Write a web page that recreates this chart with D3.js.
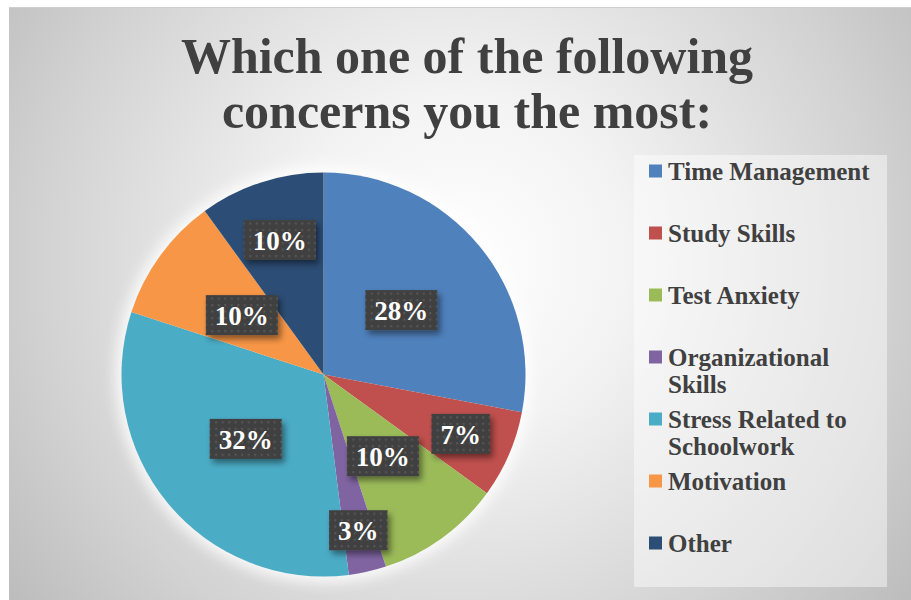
<!DOCTYPE html>
<html>
<head>
<meta charset="utf-8">
<script src="https://cdn.jsdelivr.net/npm/d3@7"></script>
<style>
  html, body { margin: 0; padding: 0; background: #ffffff; }
  svg { display: block; }
</style>
</head>
<body>
<svg id="chart" width="911" height="600"></svg>
<script>
// Survey answers: share of respondents (percent) per concern
const categories = [
  "Time Management",
  "Study Skills",
  "Test Anxiety",
  "Organizational Skills",
  "Stress Related to Schoolwork",
  "Motivation",
  "Other"
];
const shares = [28, 7, 10, 3, 32, 10, 10];
const sliceColors = ["#4f81bd", "#c0504d", "#9bbb59", "#8064a2", "#4bacc6", "#f79646", "#2c4d75"];
const titleLines = ["Which one of the following", "concerns you the most:"];

const W = 911, H = 600;
const svg = d3.select("#chart");
const defs = svg.append("defs");

// ---- chart area background: soft radial grey gradient ----
const bg = defs.append("radialGradient")
  .attr("id", "bgGrad")
  .attr("gradientUnits", "userSpaceOnUse")
  .attr("cx", 460).attr("cy", 260).attr("r", 560);
bg.append("stop").attr("offset", "0").attr("stop-color", "#ffffff");
bg.append("stop").attr("offset", "0.3").attr("stop-color", "#f3f3f3");
bg.append("stop").attr("offset", "0.75").attr("stop-color", "#d2d2d2");
bg.append("stop").attr("offset", "1").attr("stop-color", "#bdbdbd");

svg.append("rect")
  .attr("x", 9).attr("y", 7).attr("width", W - 9).attr("height", H - 7)
  .attr("fill", "url(#bgGrad)");
svg.append("line")
  .attr("x1", 9).attr("x2", W).attr("y1", 7.5).attr("y2", 7.5)
  .attr("stroke", "#cfcfcf").attr("stroke-width", 1);

// ---- title ----
const title = svg.append("text")
  .attr("text-anchor", "middle")
  .attr("font-family", "'Liberation Serif', 'DejaVu Serif', serif")
  .attr("font-weight", "bold")
  .attr("font-size", 50)
  .attr("fill", "#404040");
titleLines.forEach((line, i) => {
  title.append("tspan")
    .attr("x", 467)
    .attr("y", 73 + i * 55)
    .text(line);
});

// ---- pie ----
const cx = 323.5, cy = 374.5, R = 202;
const pieData = categories.map((c, i) => ({ category: c, value: shares[i], color: sliceColors[i] }));
const pie = d3.pie().sort(null).value(d => d.value);
const arcs = pie(pieData);
const arc = d3.arc().innerRadius(0).outerRadius(R);

// light halo behind the pie
const glow = defs.append("filter").attr("id", "halo")
  .attr("x", "-20%").attr("y", "-20%").attr("width", "140%").attr("height", "140%");
glow.append("feGaussianBlur").attr("stdDeviation", 7);

const pieG = svg.append("g").attr("transform", `translate(${cx},${cy})`);
pieG.append("circle").attr("r", R + 6).attr("fill", "#ffffff").attr("opacity", 0.85)
  .attr("filter", "url(#halo)");

pieG.selectAll("path.slice")
  .data(arcs)
  .join("path")
  .attr("class", "slice")
  .attr("d", arc)
  .attr("fill", d => d.data.color);

// ---- data labels: dark dotted callout boxes with drop shadow ----
const pat = defs.append("pattern")
  .attr("id", "dots")
  .attr("patternUnits", "userSpaceOnUse")
  .attr("width", 6.5).attr("height", 6.5);
pat.append("rect").attr("width", 6.5).attr("height", 6.5).attr("fill", "#404040");
pat.append("rect").attr("x", 2).attr("y", 2).attr("width", 2).attr("height", 2).attr("fill", "#585858");

const shadow = defs.append("filter").attr("id", "boxShadow")
  .attr("x", "-30%").attr("y", "-40%").attr("width", "170%").attr("height", "200%");
shadow.append("feDropShadow")
  .attr("dx", 3).attr("dy", 4).attr("stdDeviation", 3)
  .attr("flood-color", "#000000").attr("flood-opacity", 0.45);

// distance of each label from the centre, as a fraction of the radius
const labelDistance = [0.5, 0.74, 0.5, 0.79, 0.5, 0.5, 0.70];

const labelG = pieG.selectAll("g.lbl")
  .data(arcs)
  .join("g")
  .attr("class", "lbl")
  .attr("transform", (d, i) => {
    const r = R * labelDistance[i];
    const p = d3.arc().innerRadius(r).outerRadius(r).centroid(d);
    return `translate(${p[0]},${p[1]})`;
  });

labelG.each(function(d) {
  const g = d3.select(this);
  const box = g.append("rect").attr("fill", "url(#dots)").attr("filter", "url(#boxShadow)");
  const t = g.append("text")
    .attr("text-anchor", "middle")
    .attr("y", 10)
    .attr("font-family", "'Liberation Serif', 'DejaVu Serif', serif")
    .attr("font-weight", "bold")
    .attr("font-size", 27)
    .attr("fill", "#ffffff")
    .text(d3.format(".0%")(d.data.value / d3.sum(shares)));
  const w = t.node().getComputedTextLength() + 18;
  box.attr("x", -w / 2).attr("y", -20).attr("width", w).attr("height", 40);
});

// ---- legend ----
svg.append("rect")
  .attr("x", 634).attr("y", 155).attr("width", 253).attr("height", 432)
  .attr("fill", "#ffffff").attr("opacity", 0.45);

const legendY = d3.scaleBand().domain(categories).range([140, 574]);
const legend = svg.selectAll("g.legend-item")
  .data(pieData)
  .join("g")
  .attr("class", "legend-item")
  .attr("transform", d => `translate(649,${legendY(d.category) + legendY.bandwidth() / 2})`);

legend.append("rect")
  .attr("x", 0).attr("y", -6.5).attr("width", 13).attr("height", 13)
  .attr("fill", d => d.color);

const maxTextWidth = 214;
legend.each(function(d) {
  const text = d3.select(this).append("text")
    .attr("x", 19)
    .attr("font-family", "'Liberation Serif', 'DejaVu Serif', serif")
    .attr("font-weight", "bold")
    .attr("font-size", 25)
    .attr("fill", "#404040");
  // wrap words onto additional lines when wider than the legend box
  const words = d.category.split(" ");
  let lineNo = 0;
  let current = [];
  let tspan = text.append("tspan").attr("x", 19).attr("y", 8.5);
  words.forEach(w => {
    current.push(w);
    tspan.text(current.join(" "));
    if (tspan.node().getComputedTextLength() > maxTextWidth && current.length > 1) {
      current.pop();
      tspan.text(current.join(" "));
      current = [w];
      lineNo += 1;
      tspan = text.append("tspan").attr("x", 19).attr("y", 8.5 + lineNo * 27).text(w);
    }
  });
});
</script>
</body>
</html>
